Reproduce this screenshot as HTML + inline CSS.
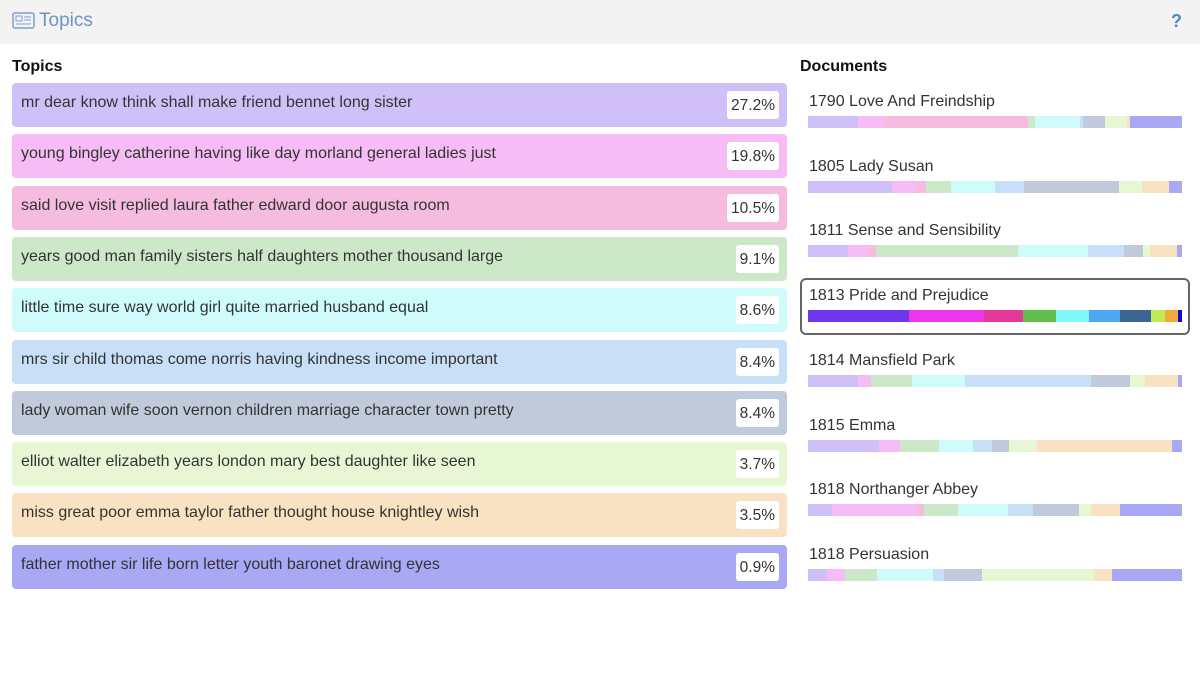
<!DOCTYPE html>
<html><head><meta charset="utf-8">
<style>
body{margin:0;width:1200px;height:696px;background:#fff;font-family:"Liberation Sans",sans-serif;position:relative;overflow:hidden}
#hdr{position:absolute;left:0;top:0;width:1200px;height:44px;background:#f3f3f3}
.abs{position:absolute}
.row{position:absolute;left:12px;width:775px;height:44px;border-radius:4px}
.row .t{position:absolute;left:9px;top:11px;font-size:16px;color:#333}
.row .p{position:absolute;right:8px;top:8px;height:28px;background:#fff;border-radius:3px;font-size:15.5px;color:#333;line-height:30px;padding:0 4px}
.dt{position:absolute;left:809px;font-size:16px;color:#333}
.bar{position:absolute;left:808px;width:374px;height:12px;display:flex}
</style></head><body>
<div id="hdr">
<svg class="abs" style="left:12px;top:12px" width="23" height="18"><rect x="1" y="1" width="21" height="15" rx="2" fill="none" stroke="#7aa0d0" stroke-width="1.5"/><rect x="4" y="4" width="6" height="5" fill="none" stroke="#7aa0d0"/><line x1="12" y1="5" x2="19" y2="5" stroke="#7aa0d0"/><line x1="12" y1="8" x2="19" y2="8" stroke="#7aa0d0"/><line x1="4" y1="12" x2="19" y2="12" stroke="#7aa0d0"/></svg>
<div class="abs" style="left:39px;top:10px;font-size:19px;color:#6b95c9">Topics</div>
<div class="abs" style="left:1171px;top:11px;font-size:18px;font-weight:bold;color:#4a8ad0">?</div>
</div>
<div class="abs" style="left:12px;top:58px;font-size:16px;font-weight:bold;color:#111">Topics</div>
<div class="abs" style="left:800px;top:58px;font-size:16px;font-weight:bold;color:#111">Documents</div>
<div id="topics"></div>
<div id="docs"></div>
<div class="abs" style="left:800px;top:278px;width:386px;height:53px;border:2px solid #666;border-radius:6px"></div>
<script>
const topicWords=["mr dear know think shall make friend bennet long sister","young bingley catherine having like day morland general ladies just","said love visit replied laura father edward door augusta room","years good man family sisters half daughters mother thousand large","little time sure way world girl quite married husband equal","mrs sir child thomas come norris having kindness income important","lady woman wife soon vernon children marriage character town pretty","elliot walter elizabeth years london mary best daughter like seen","miss great poor emma taylor father thought house knightley wish","father mother sir life born letter youth baronet drawing eyes"];
const topicPct=[27.2,19.8,10.5,9.1,8.6,8.4,8.4,3.7,3.5,0.9];
const light=["#cfc1f7","#f5bcf5","#f5bcdf","#cde8c8","#d0fbfb","#c7e0f7","#c0cadb","#e8f7d3","#f9e2c1","#a8a8f5"];
const strong=["#6e37ee","#ec36ec","#e5369a","#5fbf48","#7ff9f9","#4da8f3","#3d6594","#bfea5a","#f3a83a","#0b0bd8"];
const docTitles=["1790 Love And Freindship","1805 Lady Susan","1811 Sense and Sensibility","1813 Pride and Prejudice","1814 Mansfield Park","1815 Emma","1818 Northanger Abbey","1818 Persuasion"];
const docMix=[
[50,25,145,7,45,3,22,22,3,52],
[84,23,11,25,44,29,95,23,27,13],
[40,20,8,142,70,36,19,7,27,5],
[101,75,39,33,33,31,31,14,13,4],
[50,13,0,41,53,126,39,15,33,4],
[71,21,0,39,34,19,17,27,135,10],
[24,84,8,34,49,25,46,12,29,62],
[19,18,0,32,56,11,38,111,18,70]];
const selectedDoc=3;
const T=document.getElementById('topics');
topicWords.forEach((w,i)=>{
 const r=document.createElement('div');r.className='row';
 
 
 r.style.top=(83+i*51.3)+'px';r.style.background=light[i];
 const t=document.createElement('div');t.className='t';t.textContent=w;
 
 
 const p=document.createElement('div');p.className='p';p.textContent=topicPct[i].toFixed(1)+'%';
 
 
 r.appendChild(t);r.appendChild(p);T.appendChild(r);
});
const D=document.getElementById('docs');
docTitles.forEach((d,i)=>{
 const y=93+i*64.7;
 const t=document.createElement('div');t.className='dt';t.style.top=y+'px';t.textContent=d;
 
 
 D.appendChild(t);
 const b=document.createElement('div');b.className='bar';b.style.top=(y+23)+'px';
 
 
 const tot=docMix[i].reduce((a,c)=>a+c,0);
 docMix[i].forEach((v,k)=>{
  const s=document.createElement('div');
  
  
  s.style.width=(v/tot*374)+'px';s.style.height='12px';
  s.style.background=(i===selectedDoc?strong:light)[k];
  b.appendChild(s);
 });
 D.appendChild(b);
});
</script>
</body></html>
